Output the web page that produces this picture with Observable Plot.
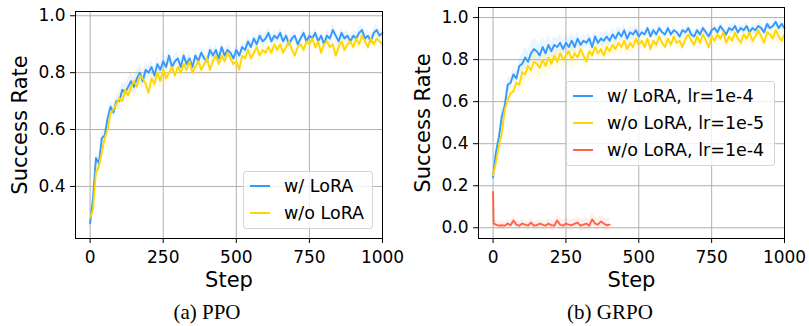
<!DOCTYPE html>
<html><head><meta charset="utf-8">
<script src="https://cdn.jsdelivr.net/npm/d3@7"></script>
<script src="https://cdn.jsdelivr.net/npm/@observablehq/plot@0.6"></script>
<style>
body{margin:0;background:#fff;}
#root{position:relative;width:809px;height:326px;overflow:hidden;font-family:"DejaVu Sans",sans-serif;background:#fff;}
.panel{position:absolute;top:0;overflow:visible;}
.cap{position:absolute;top:300px;font-family:"Liberation Serif","Times New Roman",serif;font-size:21px;transform:translateX(-50%);white-space:nowrap;color:#000;}
.legend{position:absolute;border:1px solid #d4d4d4;border-radius:3px;background:rgba(255,255,255,0.8);box-sizing:border-box;}
.row{position:absolute;left:0;height:0;}
.sw{position:absolute;height:2px;top:-1px;}
.lt{position:absolute;top:-11px;font-size:17.5px;line-height:22px;white-space:nowrap;color:#000;}
</style>
</head><body>
<div id="root"></div>
<script>
// ---------- data ----------
const steps = d3.range(0, 1001, 10);
const xTicks = [0, 250, 500, 750, 1000];

// (a) PPO
const ppoLora = [0.27,0.36,0.50,0.48,0.57,0.58,0.64,0.68,0.66,0.70,
 0.70,0.74,0.73,0.75,0.77,0.75,0.78,0.80,0.77,0.81,
 0.80,0.82,0.79,0.83,0.81,0.84,0.82,0.86,0.82,0.84,
 0.85,0.82,0.86,0.83,0.85,0.82,0.86,0.84,0.87,0.85,
 0.84,0.88,0.86,0.88,0.85,0.89,0.86,0.88,0.87,0.85,
 0.88,0.86,0.89,0.88,0.91,0.89,0.92,0.90,0.93,0.91,
 0.92,0.94,0.91,0.93,0.92,0.94,0.91,0.93,0.90,0.92,
 0.93,0.90,0.92,0.94,0.91,0.93,0.92,0.94,0.91,0.93,
 0.90,0.93,0.92,0.95,0.93,0.91,0.94,0.92,0.93,0.91,
 0.93,0.92,0.94,0.95,0.92,0.93,0.91,0.94,0.95,0.93,
 0.94];
const ppoNoLora = [0.29,0.32,0.45,0.47,0.52,0.57,0.60,0.66,0.67,0.69,
 0.71,0.70,0.74,0.72,0.75,0.77,0.75,0.79,0.78,0.76,
 0.73,0.78,0.76,0.80,0.77,0.81,0.78,0.80,0.82,0.79,
 0.82,0.80,0.83,0.81,0.84,0.80,0.82,0.84,0.81,0.83,
 0.85,0.81,0.84,0.86,0.83,0.86,0.84,0.87,0.85,0.83,
 0.84,0.81,0.86,0.85,0.88,0.85,0.87,0.89,0.86,0.88,
 0.87,0.89,0.87,0.90,0.88,0.90,0.87,0.89,0.91,0.88,
 0.86,0.89,0.90,0.88,0.91,0.90,0.92,0.89,0.91,0.87,
 0.90,0.91,0.89,0.90,0.86,0.89,0.91,0.88,0.90,0.91,
 0.89,0.92,0.90,0.93,0.91,0.89,0.92,0.90,0.92,0.91,
 0.90];
const ppoLoraSpread = [0.02,0.03,0.025,0.02,0.02,0.02,0.02,0.015,0.02,0.02,0.02];
const ppoNoLoraSpread = [0.02,0.03,0.03,0.025,0.02,0.02,0.02,0.02,0.025,0.025,0.02];

// (b) GRPO
const grpoLora = [0.24,0.36,0.43,0.53,0.58,0.68,0.69,0.73,0.71,0.77,
 0.78,0.81,0.79,0.83,0.85,0.84,0.82,0.86,0.83,0.87,
 0.84,0.87,0.86,0.88,0.85,0.88,0.86,0.89,0.86,0.90,
 0.87,0.89,0.88,0.90,0.86,0.91,0.88,0.90,0.89,0.91,
 0.89,0.92,0.90,0.93,0.91,0.94,0.90,0.93,0.92,0.94,
 0.91,0.93,0.92,0.95,0.91,0.94,0.92,0.95,0.93,0.92,
 0.95,0.92,0.94,0.93,0.91,0.94,0.93,0.95,0.92,0.91,
 0.94,0.92,0.95,0.93,0.91,0.94,0.95,0.93,0.96,0.94,
 0.92,0.95,0.94,0.96,0.93,0.95,0.94,0.96,0.93,0.95,
 0.94,0.96,0.95,0.93,0.97,0.95,0.96,0.98,0.95,0.97,
 0.95];
const grpoNoLora = [0.25,0.31,0.39,0.45,0.56,0.61,0.64,0.65,0.69,0.68,
 0.74,0.73,0.77,0.75,0.79,0.78,0.76,0.80,0.77,0.81,
 0.78,0.82,0.79,0.83,0.80,0.82,0.84,0.80,0.83,0.81,
 0.85,0.82,0.79,0.84,0.82,0.86,0.83,0.85,0.82,0.86,
 0.84,0.87,0.85,0.88,0.86,0.89,0.85,0.88,0.86,0.90,
 0.87,0.89,0.86,0.90,0.85,0.89,0.87,0.91,0.88,0.86,
 0.90,0.87,0.91,0.88,0.89,0.86,0.90,0.92,0.89,0.87,
 0.91,0.88,0.92,0.89,0.86,0.91,0.89,0.92,0.90,0.93,
 0.88,0.91,0.89,0.93,0.90,0.88,0.92,0.90,0.93,0.89,
 0.91,0.94,0.91,0.88,0.93,0.92,0.90,0.94,0.91,0.89,
 0.92];
const highLrSteps = [0, 2].concat(d3.range(10, 401, 10));
const grpoHighLr = [0.17,0.02,0.015,0.01,0.012,0.01,0.02,0.012,0.035,0.015,
 0.01,0.02,0.015,0.01,0.025,0.01,0.012,0.02,0.015,0.01,
 0.02,0.012,0.01,0.035,0.015,0.01,0.02,0.015,0.012,0.02,
 0.025,0.01,0.015,0.02,0.01,0.04,0.02,0.015,0.03,0.02,
 0.012,0.015];
const grpoLoraSpread = [0.03,0.05,0.04,0.03,0.03,0.02,0.02,0.02,0.02,0.02,0.02];
const grpoNoLoraSpread = [0.03,0.06,0.05,0.04,0.04,0.03,0.03,0.03,0.04,0.04,0.03];
const highLrSpread = [0.02,0.02,0.025,0.03,0.03];

const labelsA = ["w/ LoRA", "w/o LoRA"];
const labelsB = ["w/ LoRA, lr=1e-4", "w/o LoRA, lr=1e-5", "w/o LoRA, lr=1e-4"];
const colors = {blue: "#3399ff", yellow: "#ffd700", red: "#ff6347"};

// ---------- helpers ----------
function rows(xs, vs, spread) {
  return xs.map((s, i) => {
    const sd = spread[Math.min(spread.length - 1, Math.floor(s / 100))];
    return {step: s, v: vs[i], lo: vs[i] - sd, hi: vs[i] + sd};
  });
}

function panel({width, marginLeft, marginRight, marginTop, yDomain, yTicks, series, bg}) {
  const marks = [
    Plot.gridX(xTicks, {stroke: "#b0b0b0", strokeOpacity: 1, strokeWidth: 1}),
    Plot.gridY(yTicks, {stroke: "#b0b0b0", strokeOpacity: 1, strokeWidth: 1})
  ];
  for (const s of series) marks.push(Plot.areaY(s.data, {x: "step", y1: "lo", y2: "hi", fill: s.color, fillOpacity: 0.1}));
  for (const s of series) marks.push(Plot.line(s.data, {x: "step", y: "v", stroke: s.color, strokeWidth: 1.9}));
  marks.push(
    Plot.frame({stroke: "black", strokeWidth: 1}),
    Plot.axisX(xTicks, {tickSize: 5, tickPadding: 7, label: null, fontSize: 17, tickFormat: d => String(d)}),
    Plot.axisY(yTicks, {tickSize: 5, tickPadding: 5, label: null, fontSize: 17, tickFormat: d3.format(".1f")}),
    Plot.text(["Step"], {frameAnchor: "bottom", dy: 48, fontSize: 21, text: d => d}),
    Plot.text(["Success Rate"], {frameAnchor: "left", textAnchor: "middle", dx: -55, rotate: -90, fontSize: 21, text: d => d})
  );
  return Plot.plot({
    width, height: 300, marginLeft, marginRight, marginTop, marginBottom: 62,
    x: {domain: [-50, 1000]},
    y: {domain: yDomain},
    style: {fontFamily: "DejaVu Sans", fontSize: "17px", color: "black", background: bg, overflow: "visible"},
    marks
  });
}

function legend(root, {left, top, width, height, items, rowYs, swX, swW, textX}) {
  const box = document.createElement("div");
  box.className = "legend";
  Object.assign(box.style, {left: left + "px", top: top + "px", width: width + "px", height: height + "px"});
  items.forEach((it, i) => {
    const r = document.createElement("div");
    r.className = "row";
    r.style.top = rowYs[i] + "px";
    r.innerHTML = `<div class="sw" style="left:${swX}px;width:${swW}px;background:${it.color}"></div><div class="lt" style="left:${textX}px">${it.label}</div>`;
    box.appendChild(r);
  });
  root.appendChild(box);
}

// ---------- build ----------
const root = document.getElementById("root");

const pa = panel({
  width: 400, marginLeft: 75, marginRight: 18, marginTop: 11,
  yDomain: [0.217, 1.015], yTicks: [0.4, 0.6, 0.8, 1.0], bg: "white",
  series: [
    {data: rows(steps, ppoLora, ppoLoraSpread), color: colors.blue},
    {data: rows(steps, ppoNoLora, ppoNoLoraSpread), color: colors.yellow}
  ]
});
pa.classList.add("panel"); pa.style.left = "0px";
root.appendChild(pa);

const pb = panel({
  width: 409, marginLeft: 78, marginRight: 25, marginTop: 7,
  yDomain: [-0.051, 1.048], yTicks: [0, 0.2, 0.4, 0.6, 0.8, 1.0], bg: "transparent",
  series: [
    {data: rows(steps, grpoLora, grpoLoraSpread), color: colors.blue},
    {data: rows(steps, grpoNoLora, grpoNoLoraSpread), color: colors.yellow},
    {data: rows(highLrSteps, grpoHighLr, highLrSpread), color: colors.red}
  ]
});
pb.classList.add("panel"); pb.style.left = "400px";
root.appendChild(pb);

legend(root, {left: 243, top: 171, width: 130, height: 58,
  items: [{label: labelsA[0], color: colors.blue}, {label: labelsA[1], color: colors.yellow}],
  rowYs: [14, 41], swX: 6, swW: 20, textX: 40});
legend(root, {left: 566, top: 81, width: 209, height: 85,
  items: [{label: labelsB[0], color: colors.blue}, {label: labelsB[1], color: colors.yellow}, {label: labelsB[2], color: colors.red}],
  rowYs: [14, 41, 68], swX: 6, swW: 20, textX: 40});

const ca = document.createElement("div"); ca.className = "cap"; ca.style.left = "207px"; ca.textContent = "(a) PPO"; root.appendChild(ca);
const cb = document.createElement("div"); cb.className = "cap"; cb.style.left = "610px"; cb.textContent = "(b) GRPO"; root.appendChild(cb);
</script>
</body></html>
